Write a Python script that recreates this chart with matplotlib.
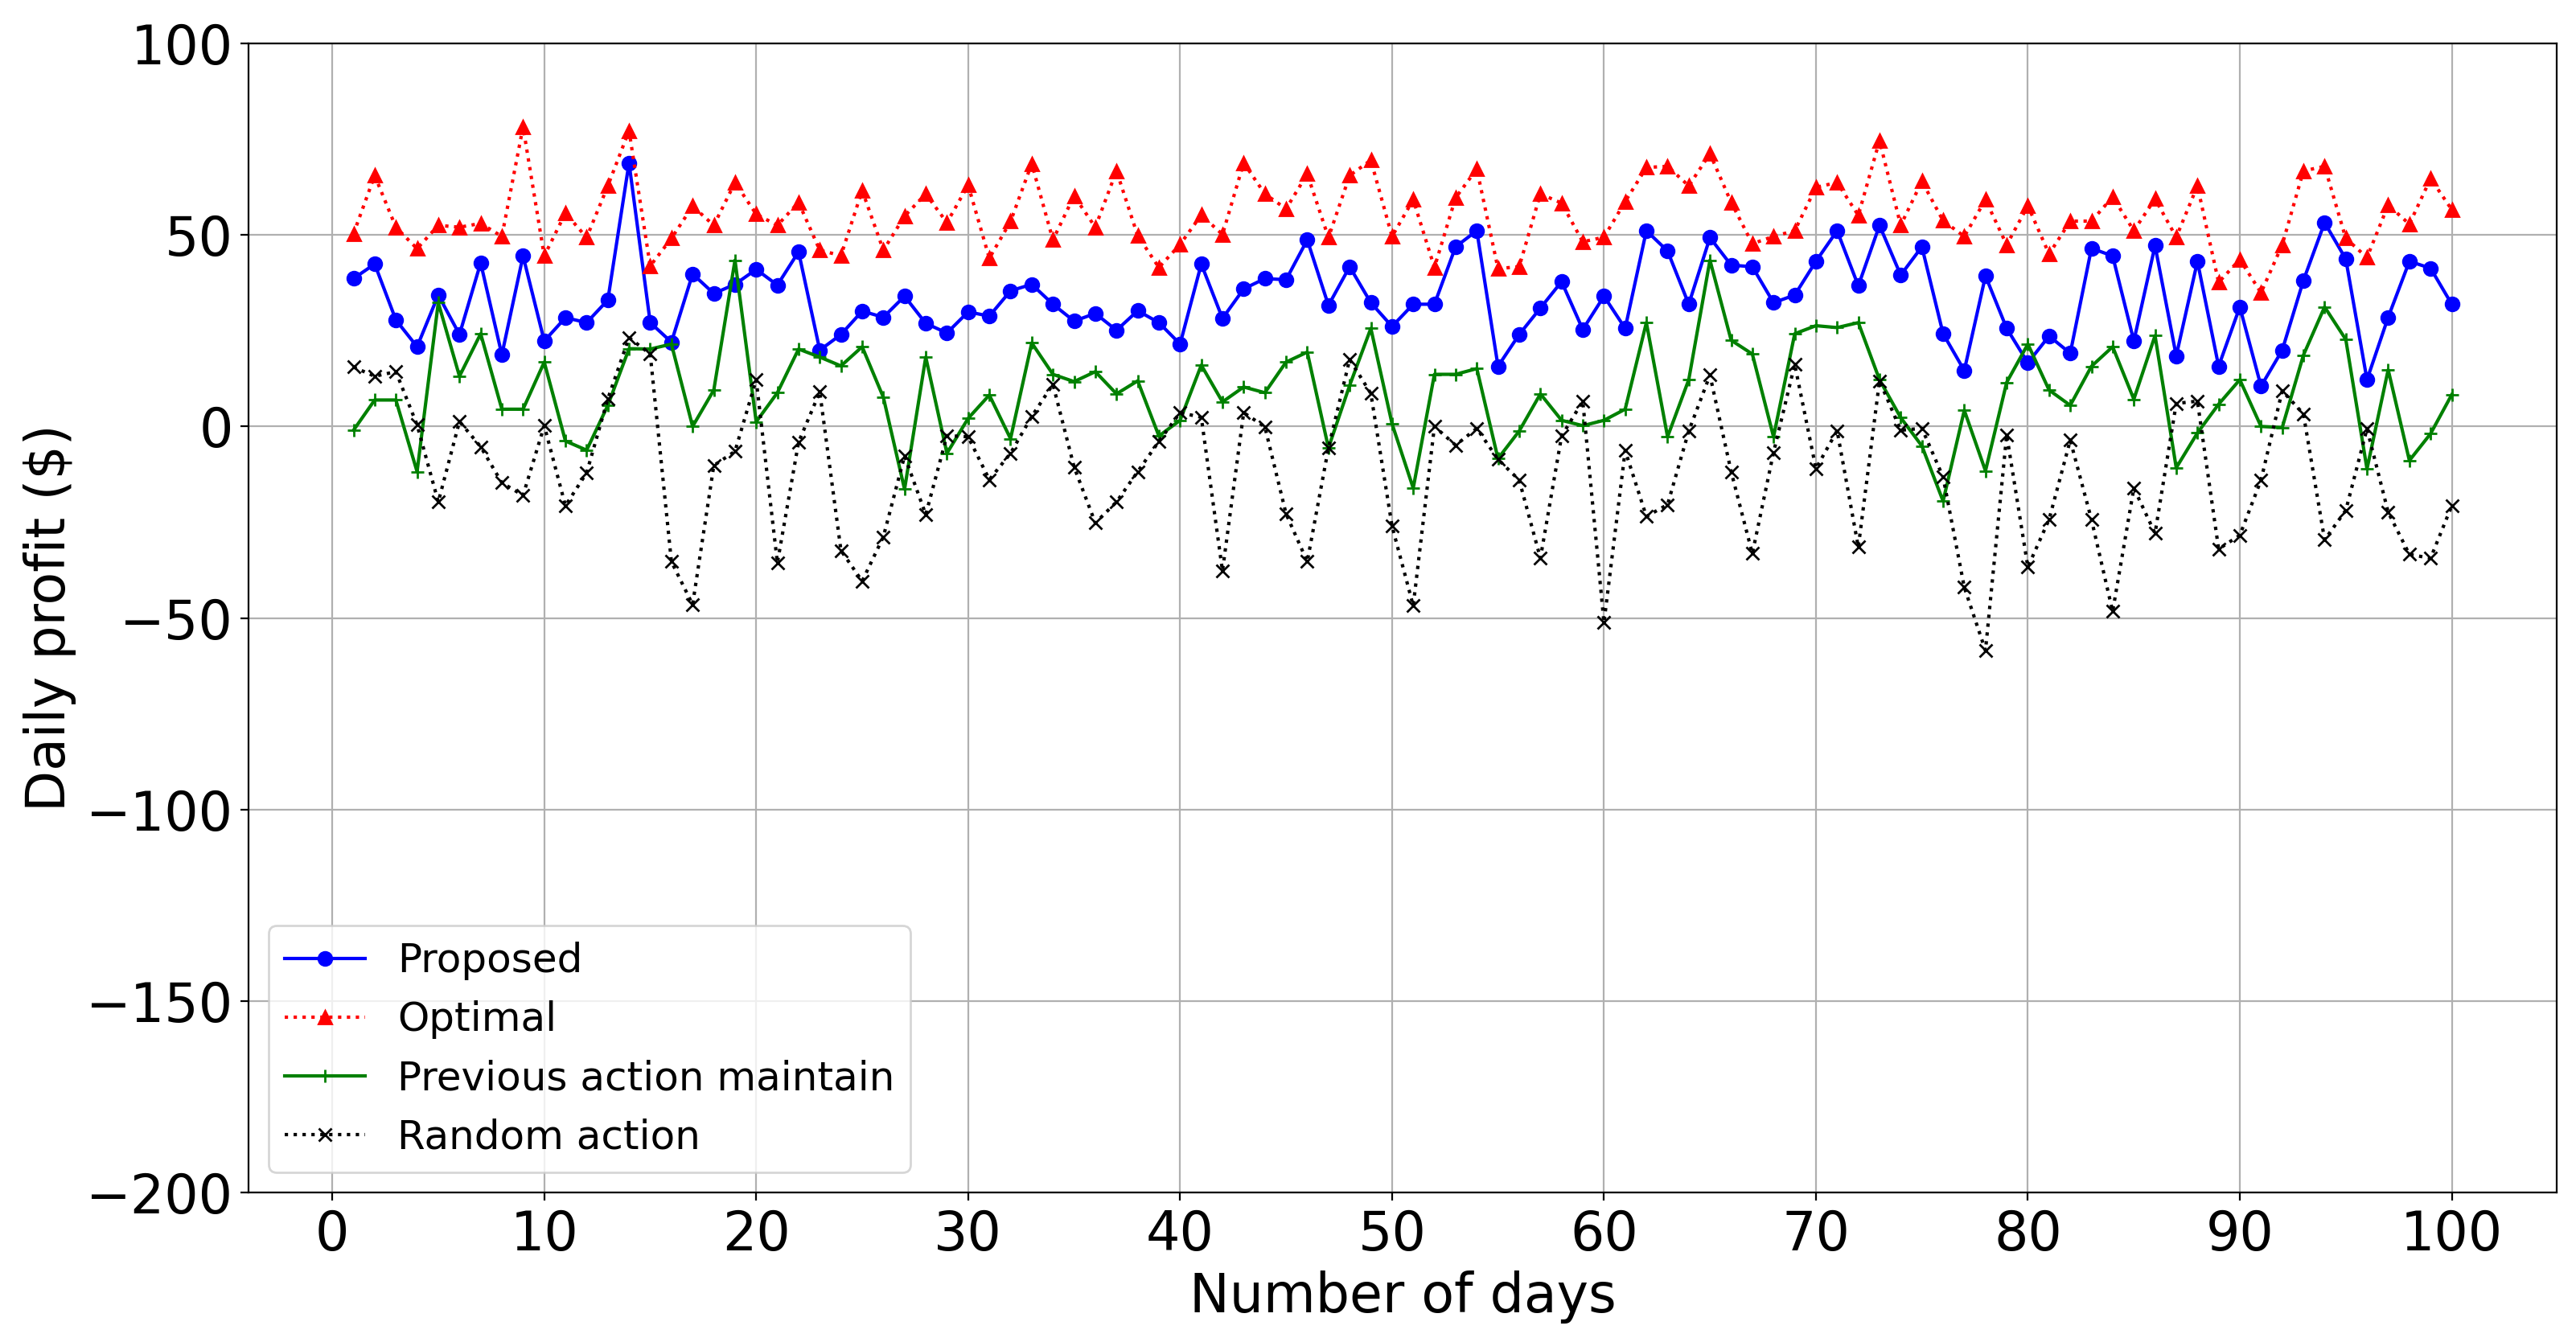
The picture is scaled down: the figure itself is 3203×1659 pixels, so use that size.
import matplotlib
matplotlib.use("Agg")
import matplotlib.pyplot as plt

# days 1..100
days = list(range(1, 101))

proposed = [38.6, 42.4, 27.8, 20.8, 34.3, 24.0, 42.7, 18.7, 44.5, 22.3,
            28.4, 27.1, 33.0, 68.8, 27.1, 22.0, 39.8, 34.7, 37.1, 41.0,
            36.9, 45.6, 19.9, 24.0, 30.1, 28.5, 34.0, 26.9, 24.4, 29.9,
            28.8, 35.4, 37.1, 31.9, 27.5, 29.5, 25.1, 30.2, 27.1, 21.5,
            42.4, 28.2, 35.9, 38.6, 38.3, 48.7, 31.6, 41.7, 32.3, 26.1,
            31.9, 31.9, 46.9, 51.1, 15.7, 24.0, 30.9, 37.8, 25.3, 34.0,
            25.6, 51.1, 45.8, 31.9, 49.3, 42.1, 41.7, 32.3, 34.3, 43.1,
            51.1, 36.7, 52.5, 39.5, 46.9, 24.2, 14.6, 39.3, 25.6, 16.6,
            23.6, 19.1, 46.5, 44.5, 22.3, 47.2, 18.4, 43.1, 15.7, 31.2,
            10.5, 19.9, 38.1, 53.2, 43.7, 12.2, 28.5, 43.1, 41.3, 31.9]

optimal = [50.3, 65.5, 52.0, 46.4, 52.5, 52.0, 53.0, 49.6, 78.2, 44.5,
           55.7, 49.3, 62.8, 77.2, 41.9, 49.1, 57.5, 52.5, 63.7, 55.4,
           52.5, 58.5, 46.0, 44.6, 61.6, 46.0, 54.9, 60.7, 53.2, 63.0,
           43.9, 53.5, 68.6, 48.7, 60.2, 52.0, 66.7, 49.8, 41.5, 47.5,
           55.2, 50.1, 68.8, 60.7, 56.8, 65.9, 49.3, 65.5, 69.5, 49.6,
           59.2, 41.5, 59.7, 67.2, 41.2, 41.7, 60.7, 58.3, 48.2, 49.4,
           58.7, 67.6, 67.9, 62.8, 71.2, 58.5, 47.7, 49.6, 51.1, 62.4,
           63.7, 55.1, 74.6, 52.5, 64.0, 53.7, 49.6, 59.2, 47.4, 57.6,
           45.0, 53.6, 53.6, 59.9, 51.1, 59.4, 49.4, 62.8, 37.6, 43.6,
           34.9, 47.4, 66.7, 67.9, 49.1, 44.1, 57.8, 52.8, 64.7, 56.6]

prev_action = [-1.0, 6.9, 6.9, -11.8, 32.3, 13.1, 24.2, 4.5, 4.5, 16.8,
               -3.8, -6.2, 5.5, 20.3, 20.2, 21.5, 0.0, 9.5, 43.4, 1.2,
               8.8, 20.2, 18.1, 15.8, 20.8, 7.6, -16.4, 18.1, -7.0, 2.1,
               8.2, -3.2, 21.8, 13.6, 11.7, 14.3, 8.5, 11.9, -2.5, 1.6,
               16.0, 6.4, 10.3, 8.8, 16.8, 19.4, -5.6, 10.7, 25.6, 0.7,
               -16.1, 13.6, 13.6, 15.1, -8.4, -1.2, 8.5, 1.6, 0.2, 1.6,
               4.5, 27.1, -2.7, 12.2, 43.4, 22.5, 18.9, -2.7, 24.2, 26.3,
               25.8, 27.1, 12.2, 2.3, -5.1, -19.5, 4.2, -11.6, 11.5, 21.5,
               9.5, 5.5, 15.7, 20.8, 7.1, 23.7, -10.8, -1.7, 5.8, 12.2,
               0.0, -0.3, 18.6, 31.2, 22.7, -11.1, 14.8, -8.9, -1.9, 8.3]

random_action = [15.5, 13.1, 14.3, 0.4, -19.7, 1.3, -5.3, -14.7, -18.0, 0.2,
                 -20.7, -12.1, 7.2, 23.2, 18.9, -35.3, -46.5, -10.2, -6.5, 12.2,
                 -35.6, -4.1, 9.0, -32.4, -40.4, -28.8, -7.7, -23.0, -2.4, -2.7,
                 -13.9, -7.0, 2.6, 11.0, -10.6, -25.2, -19.7, -11.8, -3.9, 3.6,
                 2.4, -37.7, 3.6, -0.1, -22.8, -35.3, -5.6, 17.5, 8.6, -26.0,
                 -46.8, 0.0, -4.9, -0.5, -8.6, -14.0, -34.4, -2.5, 6.6, -51.2,
                 -6.3, -23.5, -20.4, -1.2, 13.4, -11.8, -33.2, -6.8, 16.2, -11.0,
                 -1.1, -31.5, 11.9, -1.0, -0.5, -13.2, -42.0, -58.5, -2.2, -36.7,
                 -24.3, -3.6, -24.3, -48.3, -16.1, -27.9, 6.0, 6.6, -32.0, -28.4,
                 -14.0, 9.3, 3.3, -29.6, -21.9, -0.6, -22.4, -33.4, -34.4, -20.7]

fig = plt.figure(figsize=(16.015, 8.295), dpi=200)
ax = fig.add_axes([0.0965, 0.106, 0.896, 0.8615])

ax.plot(days, proposed, 'bo-', label='Proposed')
ax.plot(days, optimal, 'r^:', label='Optimal')
ax.plot(days, prev_action, 'g+-', label='Previous action maintain')
ax.plot(days, random_action, 'kx:', label='Random action')

ax.set_ylim(-200, 100)
ax.set_yticks([-200, -150, -100, -50, 0, 50, 100])
ax.set_xticks(range(0, 101, 10))
ax.tick_params(labelsize=24)
ax.grid(True)

ax.set_xlabel("Number of days", fontsize=24)
ax.set_ylabel(r"Daily profit (\$)", fontsize=24)
ax.legend(loc='lower left', fontsize=18)

fig.savefig("out.png", dpi=200)
